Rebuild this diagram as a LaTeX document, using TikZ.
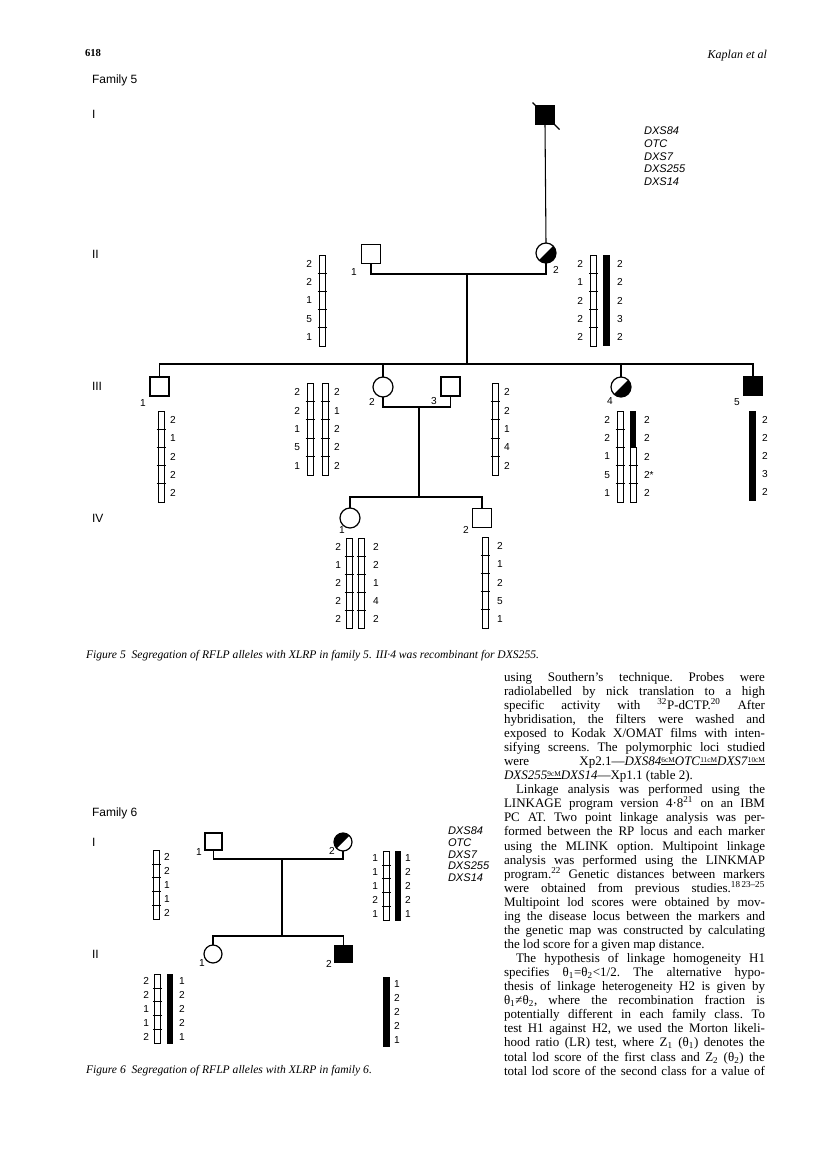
\documentclass[tikz,border=0pt]{standalone}
\usepackage{fontspec}
\setmainfont{Liberation Serif}
\setsansfont{Liberation Sans}
\usetikzlibrary{calc}
\newcommand\barW[3]{%
  \draw[chr] ({#1-3},{#2}) rectangle ({#1+3},{#2+5*#3});
  \foreach \k in {1,2,3,4}{\draw[chr] ({#1-4.5},{#2+\k*#3}) -- ({#1+4.5},{#2+\k*#3});}%
}
\newcommand\barB[3]{\fill ({#1-3.3},{#2}) rectangle ({#1+3.3},{#2+5*#3});}
\newcommand\barBW[3]{%
  \fill ({#1-3.3},{#2}) rectangle ({#1+3.3},{#2+2*#3});
  \draw[chr] ({#1-3},{#2+2*#3}) rectangle ({#1+3},{#2+5*#3});
  \foreach \k in {3,4}{\draw[chr] ({#1-4.5},{#2+\k*#3}) -- ({#1+4.5},{#2+\k*#3});}%
}
\newcommand\numsL[4]{\foreach \v [count=\k from 0] in {#4}{\node[num,anchor=east] at ({#1},{#2+(\k+0.5)*#3}) {\v};}}
\newcommand\numsR[4]{\foreach \v [count=\k from 0] in {#4}{\node[num,anchor=west] at ({#1},{#2+(\k+0.5)*#3}) {\v};}}
\newcommand\jline[1]{\hbox to\hsize{#1}}
\newcommand\lline[1]{\hbox to\hsize{#1\hfil}}
\newcommand\dist[1]{\raisebox{0.6ex}{\fontsize{5.5}{6}\selectfont\underline{#1}}}
\begin{document}
\begin{tikzpicture}[x=0.75pt,y=-0.75pt,
  every node/.style={inner sep=0pt, outer sep=0pt},
  num/.style={font=\sffamily\fontsize{7.6}{8}\selectfont},
  idl/.style={font=\sffamily\fontsize{7.6}{8}\selectfont},
  male/.style={draw, line width=0.9pt, rectangle, minimum size=14.25pt},
  female/.style={draw, line width=0.9pt, circle, minimum size=15pt},
  male6/.style={draw, line width=0.9pt, rectangle, minimum size=12.75pt},
  female6/.style={draw, line width=0.9pt, circle, minimum size=13.5pt},
  carLR/.style={path picture={\fill[black] (path picture bounding box.south west) -- (path picture bounding box.north east) -- (path picture bounding box.south east) -- cycle;}},
  carUL/.style={path picture={\fill[black] (path picture bounding box.south west) -- (path picture bounding box.north east) -- (path picture bounding box.north west) -- cycle;}},
  pline/.style={line width=0.8pt},
  chr/.style={line width=0.6pt},
  locus/.style={font=\sffamily\itshape\fontsize{8.3}{9}\selectfont, anchor=west},
  gen/.style={font=\sffamily\fontsize{9}{10}\selectfont, anchor=west},
  capt/.style={anchor=base west, font=\itshape\fontsize{8.7}{10}\selectfont},
]
\useasboundingbox (0,0) rectangle (816,1166);
\fill[white] (0,0) rectangle (816,1166);

% header
\node[anchor=west, font=\bfseries\fontsize{8}{9}\selectfont] (pgno) at (85,53) {618};
\node[anchor=east, font=\itshape\fontsize{9}{10}\selectfont] (runhead) at (767,56) {Kaplan et al};

% ---------------- Family 5 ----------------
\node[gen] (fam5) at (92,80) {Family 5};
\node[gen] (g5I) at (92,114) {I};
\node[gen] (g5II) at (92,254) {II};
\node[gen] (g5III) at (92,386) {III};
\node[gen] (g5IV) at (92,518) {IV};

\foreach \t [count=\k from 0] in {DXS84,OTC,DXS7,DXS255,DXS14}
  \node[locus] (locA\k) at (644,{131+12.7*\k}) {\t};

% individuals
\node[male, fill=black] (I1) at (545,115) {};
\draw[line width=0.9pt] ($(I1.north west)+(-3,-3)$) -- ($(I1.south east)+(5,5)$);
\node[male] (II1) at (371,254) {};
\node[female, carLR] (II2) at (546,253) {};
\node[male] (III1) at (159.5,386.5) {};
\node[female] (III2) at (383,387) {};
\node[male] (III3) at (450.5,386.5) {};
\node[female, carLR] (III4) at (621,387) {};
\node[male, fill=black] (III5) at (753,386) {};
\node[female] (IV1) at (350,518) {};
\node[male] (IV2) at (482,518) {};

% id labels
\node[idl] (lII1) at (354,272) {1};
\node[idl] (lII2) at (556,270) {2};
\node[idl] (lIII1) at (143,403) {1};
\node[idl] (lIII2) at (372,402) {2};
\node[idl] (lIII3) at (434,401) {3};
\node[idl] (lIII4) at (610,401) {4};
\node[idl] (lIII5) at (737,402) {5};
\node[idl] (lIV1) at (342,530) {1};
\node[idl] (lIV2) at (466,530) {2};

% connectors
\coordinate (c2) at (467,274);
\coordinate (s3) at (467,364);
\coordinate (c3) at (419,407);
\coordinate (s4) at (419,497);
\draw[pline] (I1.south) -- (II2.north);
\draw[pline] (II1.south) -- (II1.south |- c2) -- (II2.south |- c2) -- (II2.south);
\draw[pline] (c2) -- (s3);
\draw[pline] (III1.north) -- (III1.north |- s3) -- (III5.north |- s3) -- (III5.north);
\draw[pline] (III2.north) -- (III2.north |- s3);
\draw[pline] (III4.north) -- (III4.north |- s3);
\draw[pline] (III2.south) -- (III2.south |- c3) -- (III3.south |- c3) -- (III3.south);
\draw[pline] (c3) -- (s4);
\draw[pline] (IV1.north) -- (IV1.north |- s4) -- (IV2.north |- s4) -- (IV2.north);

% haplotypes
\barW{322}{255}{18.2}
\numsL{312}{255}{18.2}{2,2,1,5,1}
\barW{593.5}{255}{18.2}
\barB{606.5}{255}{18.2}
\numsL{583}{255}{18.2}{2,1,2,2,2}
\numsR{617}{255}{18.2}{2,2,2,3,2}

\barW{161}{411}{18.2}
\numsR{170}{411}{18.2}{2,1,2,2,2}

\barW{310}{383}{18.4}
\barW{325}{383}{18.4}
\numsL{300}{383}{18.4}{2,2,1,5,1}
\numsR{334}{383}{18.4}{2,1,2,2,2}

\barW{495}{383}{18.4}
\numsR{504}{383}{18.4}{2,2,1,4,2}

\barW{620}{411}{18.2}
\barBW{633}{411}{18.2}
\numsL{610}{411}{18.2}{2,2,1,5,1}
\numsR{644}{411}{18.2}{2,2,2,2*,2}

\barB{752.5}{411}{18}
\numsR{762}{411}{18}{2,2,2,3,2}

\barW{349}{538}{18}
\barW{361}{538}{18}
\numsL{341}{538}{18}{2,1,2,2,2}
\numsR{373}{538}{18}{2,2,1,4,2}

\barW{485}{537}{18.2}
\numsR{497}{537}{18.2}{2,1,2,5,1}

\node[capt] (cap5) at (86,658.5)
  {Figure 5\enspace Segregation of RFLP alleles with XLRP in family 5. III·4 was recombinant for DXS255.};

% ---------------- Family 6 ----------------
\node[gen] (fam6) at (92,813) {Family 6};
\node[gen] (g6I) at (92,842) {I};
\node[gen] (g6II) at (92,954) {II};

\foreach \t [count=\k from 0] in {DXS84,OTC,DXS7,DXS255,DXS14}
  \node[locus] (locB\k) at (448,{831+11.6*\k}) {\t};

\node[male6] (F6I1) at (213.5,841.5) {};
\node[female6, carUL] (F6I2) at (343,842) {};
\node[female6] (F6II1) at (213,954) {};
\node[male6, fill=black] (F6II2) at (343.5,954) {};

\node[idl] (lF6I1) at (199,852) {1};
\node[idl] (lF6I2) at (332,851) {2};
\node[idl] (lF6II1) at (202,963) {1};
\node[idl] (lF6II2) at (329,964) {2};

\coordinate (c6) at (282,859);
\coordinate (s6) at (282,936);
\draw[pline] (F6I1.south) -- (F6I1.south |- c6) -- (F6I2.south |- c6) -- (F6I2.south);
\draw[pline] (c6) -- (s6);
\draw[pline] (F6II1.north) -- (F6II1.north |- s6) -- (F6II2.north |- s6) -- (F6II2.north);

\barW{156.5}{850}{13.9}
\numsR{164}{850}{13.9}{2,2,1,1,2}
\barW{386.5}{851}{13.9}
\barB{398}{851}{13.9}
\numsL{378}{851}{13.9}{1,1,1,2,1}
\numsR{405}{851}{13.9}{1,2,2,2,1}

\barW{157.5}{974}{13.9}
\barB{170}{974}{13.9}
\numsL{149}{974}{13.9}{2,2,1,1,2}
\numsR{179}{974}{13.9}{1,2,2,2,1}
\barB{386.5}{977}{13.9}
\numsR{394}{977}{13.9}{1,2,2,2,1}

\node[capt] (cap6) at (86,1073)
  {Figure 6\enspace Segregation of RFLP alleles with XLRP in family 6.};

% ---------------- Text column ----------------
\node[anchor=base west] (body) at (504,681.2) {\parbox[t]{195.75pt}{%
\fontsize{9.75pt}{10.55pt}\selectfont\lineskiplimit=-20pt\frenchspacing
\jline{using Southern's technique. Probes were}
\jline{radiolabelled by nick translation to a high}
\jline{specific activity with \textsuperscript{32}P-dCTP.\textsuperscript{20} After}
\jline{hybridisation, the filters were washed and}
\jline{exposed to Kodak X/OMAT films with inten-}
\jline{sifying screens. The polymorphic loci studied}
\jline{were Xp2.1—\textit{DXS84}\dist{6cM}\textit{OTC}\dist{11cM}\textit{DXS7}\dist{10cM}}
\lline{\textit{DXS255}\dist{9cM}\textit{DXS14}—Xp1.1 (table 2).}
\jline{\hskip9pt Linkage analysis was performed using the}
\jline{LINKAGE program version 4·8\textsuperscript{21} on an IBM}
\jline{PC AT. Two point linkage analysis was per-}
\jline{formed between the RP locus and each marker}
\jline{using the MLINK option. Multipoint linkage}
\jline{analysis was performed using the LINKMAP}
\jline{program.\textsuperscript{22} Genetic distances between markers}
\jline{were obtained from previous studies.\textsuperscript{18\,23--25}}
\jline{Multipoint lod scores were obtained by mov-}
\jline{ing the disease locus between the markers and}
\jline{the genetic map was constructed by calculating}
\lline{the lod score for a given map distance.}
\jline{\hskip9pt The hypothesis of linkage homogeneity H1}
\jline{specifies θ\textsubscript{1}=θ\textsubscript{2}<1/2. The alternative hypo-}
\jline{thesis of linkage heterogeneity H2 is given by}
\jline{θ\textsubscript{1}≠θ\textsubscript{2}, where the recombination fraction is}
\jline{potentially different in each family class. To}
\jline{test H1 against H2, we used the Morton likeli-}
\jline{hood ratio (LR) test, where Z\textsubscript{1} (θ\textsubscript{1}) denotes the}
\jline{total lod score of the first class and Z\textsubscript{2} (θ\textsubscript{2}) the}
\jline{total lod score of the second class for a value of}
}};
\end{tikzpicture}
\end{document}
